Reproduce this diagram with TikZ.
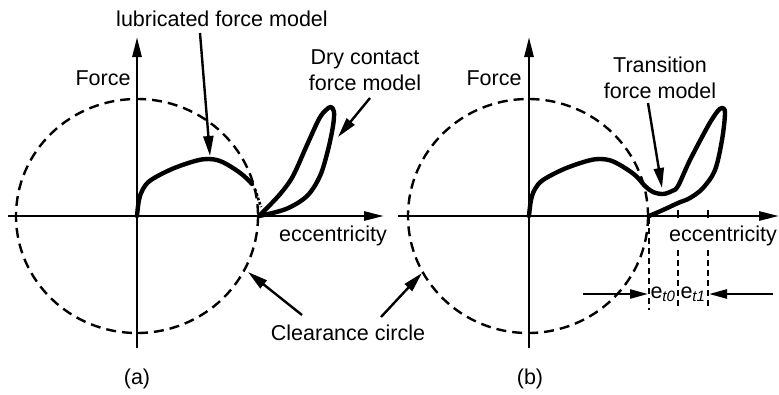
\documentclass[tikz,border=0pt]{standalone}
\usepackage{fontspec}
\setmainfont{Liberation Sans}
\usepackage{tikz}
\usetikzlibrary{positioning, arrows.meta}

\begin{document}
\begin{tikzpicture}[
  x=1pt, y=-1pt,
  axis/.style={-{Triangle[length=20pt, width=9pt]}, line width=2.6pt},
  pointer/.style={-{Triangle[length=20pt, width=10pt]}, line width=2.4pt},
  dimarrow/.style={-{Triangle[length=18pt, width=9pt]}, line width=2.4pt},
  clearance/.style={dash pattern=on 10pt off 6pt, line width=2.4pt},
  guide/.style={dash pattern=on 6pt off 4pt, line width=2pt},
  forcecurve/.style={line width=4.4pt, line join=round, line cap=round},
  every node/.style={font=\fontsize{21.5}{26}\selectfont, inner sep=1pt}
]
  \useasboundingbox (0,0) rectangle (779,394);

  % --- Panel (a) ---
  \coordinate (oA) at (137,216);
  \coordinate (xA0) at (8,216);   \coordinate (xA1) at (384,216);
  \coordinate (yA0) at (137,348); \coordinate (yA1) at (137,37);
  \draw[clearance] (oA) ellipse [x radius=121, y radius=117];
  \draw[axis] (xA0) -- (xA1);
  \draw[axis] (yA0) -- (yA1);
  \node (forceA) at (103,78) {Force};
  \node (eccA) at (333,236) {eccentricity};
  \node (capA) at (137,379) {(a)};

  % lubricated curve, dotted tail, dry contact loop
  \draw[forcecurve] plot[smooth, tension=0.6] coordinates {
    (137,216) (139,200) (143,189) (151,180) (172,169) (195,161) (208,159)
    (220,161) (233,168) (244,176) (252,184)};
  \draw[dotted, line width=2.6pt] (255,189) -- (261,207);
  \draw[forcecurve] plot[smooth, tension=0.55] coordinates {
    (259,216) (268,207) (281,193) (293,176) (307,145) (319,119) (326,110)
    (331,107) (334,112) (333,126) (328,150) (320,176) (307,196) (286,209) (259,216)};

  \node (lubLabel) at (222,19) {lubricated force model};
  \coordinate (lubTail) at (200,33);
  \coordinate (lubTip) at (210,156);
  \draw[pointer] (lubTail) -- (lubTip);

  \node[align=center] (dryLabel) at (365,70) {Dry contact\\force model};
  \coordinate (dryTail) at (370,98);
  \coordinate (dryTip) at (338,137);
  \draw[pointer] (dryTail) -- (dryTip);

  % --- Clearance circle label ---
  \node (clearLabel) at (348,333) {Clearance circle};
  \coordinate (clearTailA) at (302,315); \coordinate (clearTipA) at (248,272);
  \coordinate (clearTailB) at (381,317); \coordinate (clearTipB) at (422,273);
  \draw[pointer] (clearTailA) -- (clearTipA);
  \draw[pointer] (clearTailB) -- (clearTipB);

  % --- Panel (b) ---
  \coordinate (oB) at (529,216);
  \coordinate (xB0) at (398,216); \coordinate (xB1) at (779,216);
  \coordinate (yB0) at (529,348); \coordinate (yB1) at (529,37);
  \draw[clearance] (528,216) ellipse [x radius=120, y radius=117];
  \draw[axis] (xB0) -- (xB1);
  \draw[axis] (yB0) -- (yB1);
  \node (forceB) at (494,78) {Force};
  \node (eccB) at (723,236) {eccentricity};
  \node (capB) at (530,379) {(b)};

  % lubricated + transition + dry contact curve
  \draw[forcecurve] plot[smooth, tension=0.55] coordinates {
    (529,216) (531,200) (535,189) (543,180) (564,169) (587,161) (600,159)
    (612,161) (625,168) (636,176) (645,186) (653,192) (663,194) (672,191) (678,186)
    (690,160) (708,126) (717,112) (722,108) (725,113) (722,140) (715,170)
    (703,188) (690,198) (678,203) (663,210) (649,216)};

  \node[align=center] (transLabel) at (660,78) {Transition\\force model};
  \coordinate (transTail) at (648,103);
  \coordinate (transTip) at (662,188);
  \draw[pointer] (transTail) -- (transTip);

  % ticks and guide lines
  \draw[line width=2.4pt] (678,210) -- (678,218);
  \draw[line width=2.4pt] (708,210) -- (708,218);
  \draw[guide] (649,218) -- (649,310);
  \draw[guide] (678,250) -- (678,310);
  \draw[guide] (708,250) -- (708,310);

  % --- Transition range ---
  \node (et0) at (663,294) {e\textsubscript{\itshape t0}};
  \node (et1) at (693,294) {e\textsubscript{\itshape t1}};
  \coordinate (dimL) at (583,294); \coordinate (dimLtip) at (648,294);
  \coordinate (dimR) at (773,294); \coordinate (dimRtip) at (709,294);
  \draw[dimarrow] (dimL) -- (dimLtip);
  \draw[dimarrow] (dimR) -- (dimRtip);
\end{tikzpicture}
\end{document}
